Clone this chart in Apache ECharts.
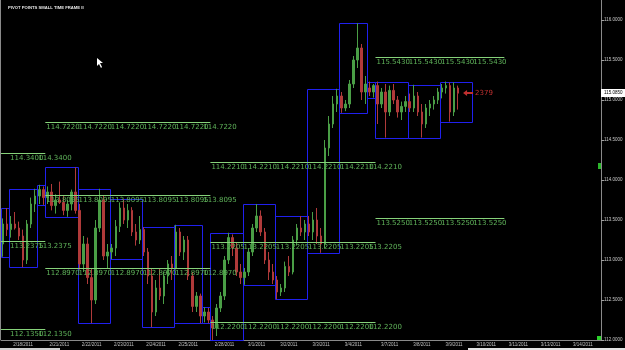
<!DOCTYPE html>
<html>
<head>
<meta charset="utf-8">
<script src="https://cdn.jsdelivr.net/npm/echarts@6/dist/echarts.min.js"></script>
<style>
  html, body { margin: 0; padding: 0; background: #000; }
  #chart { width: 625px; height: 350px; }
</style>
</head>
<body>
<div id="chart"></div>
<script>
// 3-hour candles, each one [open, close, low, high]
const feb17 = [[113.20,113.45,113.04,113.52],[113.45,113.38,113.30,113.65]];
const feb18 = [[113.38,113.45,113.28,113.55],[113.45,113.40,113.38,113.60],[113.40,113.30,113.25,113.48],
  [113.30,113.00,112.91,113.38],[113.00,113.45,112.95,113.50],[113.45,113.70,113.40,113.78],[113.70,113.80,113.60,113.89]];
const feb20 = [[113.80,113.88,113.70,113.94],[113.88,113.78,113.69,113.92]];
const feb21 = [[113.78,113.85,113.70,113.92],[113.85,113.68,113.62,113.95],[113.68,113.75,113.58,113.82],
  [113.75,113.72,113.70,113.98],[113.72,113.62,113.56,113.80],[113.62,113.70,113.54,113.75],
  [113.70,113.85,113.62,113.88],[113.85,113.62,113.58,114.16]];
const feb22 = [[113.62,112.95,112.88,113.70],[112.95,113.20,112.85,113.30],[113.20,112.78,112.70,113.28],
  [112.78,112.50,112.21,112.90],[112.50,113.40,112.45,113.50],[113.40,113.75,113.35,113.89],
  [113.75,113.05,113.00,113.80],[113.05,113.10,112.90,113.20]];
const feb23 = [[113.10,113.15,113.01,113.20],[113.15,113.42,113.05,113.50],[113.42,113.65,113.35,113.72],
  [113.65,113.50,113.45,113.76],[113.50,113.62,113.40,113.70],[113.62,113.35,113.30,113.66],
  [113.35,113.25,113.18,113.45],[113.25,113.38,113.20,113.55]];
const feb24 = [[113.38,113.10,113.05,113.41],[113.10,112.80,112.70,113.15],[112.80,112.35,112.16,112.90],
  [112.35,112.65,112.30,112.75],[112.65,112.55,112.50,112.90],[112.55,112.80,112.45,112.85],
  [112.80,112.95,112.70,113.00],[112.95,112.90,112.75,113.05]];
const feb25 = [[112.90,113.35,112.88,113.44],[113.35,113.10,113.05,113.40],[113.10,113.25,113.00,113.30],
  [113.25,112.80,112.75,113.30],[112.80,112.42,112.35,112.85],[112.42,112.55,112.35,112.60],
  [112.55,112.30,112.21,112.58]];
const feb27 = [[112.30,112.35,112.22,112.41],[112.35,112.25,112.21,112.40]];
const feb28 = [[112.25,112.15,112.00,112.30],[112.15,112.40,112.05,112.45],[112.40,112.55,112.35,112.60],
  [112.55,113.00,112.50,113.05],[113.00,113.28,112.95,113.34],[113.28,113.15,113.05,113.32],
  [113.15,112.85,112.80,113.22],[112.85,112.78,112.70,112.95]];
const mar1 = [[112.78,112.85,112.69,112.90],[112.85,113.10,112.80,113.15],[113.10,113.40,113.05,113.45],
  [113.40,113.55,113.35,113.70],[113.55,113.35,113.30,113.62],[113.35,113.00,112.95,113.40],
  [113.00,112.85,112.75,113.10],[112.85,112.75,112.70,112.95]];
const mar2 = [[112.75,112.60,112.51,112.80],[112.60,112.65,112.55,112.70],[112.65,112.92,112.60,112.98],
  [112.92,112.85,112.80,113.05],[112.85,113.25,112.82,113.30],[113.25,113.40,113.18,113.45],
  [113.40,113.35,113.30,113.55],[113.35,113.45,113.25,113.50]];
const mar3 = [[113.45,113.35,113.30,113.55],[113.35,113.50,113.25,113.60],[113.50,113.30,113.20,113.65],
  [113.30,113.20,113.09,113.40],[113.20,114.40,113.15,114.50],[114.40,114.70,114.30,114.80],
  [114.70,114.95,114.65,115.05],[114.95,115.05,114.85,115.14]];
const mar4 = [[115.05,114.90,114.84,115.10],[114.90,114.95,114.86,115.00],[114.95,115.20,114.90,115.25],
  [115.20,115.50,115.15,115.55],[115.50,115.65,115.40,115.96],[115.65,115.10,115.00,115.70],
  [115.10,115.20,114.95,115.30]];
const mar6 = [[115.15,115.10,115.05,115.23],[115.10,115.18,115.03,115.20]];
const mar7 = [[115.18,114.95,114.70,115.23],[114.95,115.10,114.90,115.15],[115.10,114.85,114.53,115.20],
  [114.85,115.12,114.80,115.18],[115.12,115.00,114.95,115.20],[115.00,114.85,114.78,115.05],
  [114.85,114.92,114.75,114.98],[114.92,114.98,114.85,115.05]];
const mar8 = [[114.98,114.90,114.85,115.08],[114.90,115.05,114.85,115.19],[115.05,114.85,114.80,115.10],
  [114.85,114.70,114.53,114.95],[114.70,114.90,114.65,114.95],[114.90,114.95,114.80,115.00],
  [114.95,115.00,114.88,115.05],[115.00,115.10,114.95,115.15]];
const mar9 = [[115.10,115.15,115.02,115.20],[115.15,115.18,115.08,115.23],[115.18,114.85,114.73,115.22],
  [114.85,115.15,114.80,115.22],[115.15,115.085,114.88,115.18]];

const dayNames = ['2/17/2011','2/18/2011','2/20/2011','2/21/2011','2/22/2011','2/23/2011','2/24/2011',
  '2/25/2011','2/27/2011','2/28/2011','3/1/2011','3/2/2011','3/3/2011','3/4/2011','3/6/2011',
  '3/7/2011','3/8/2011','3/9/2011','3/10/2011','3/11/2011','3/13/2011','3/14/2011'];
const daySlots = [2,7,2,8,8,8,8,7,2,8,8,8,8,7,2,8,8,8,8,8,8,8];
const dayCandles = [feb17,feb18,feb20,feb21,feb22,feb23,feb24,feb25,feb27,feb28,mar1,mar2,mar3,mar4,mar6,
  mar7,mar8,mar9,[],[],[],[]];
const axisDays = ['2/18/2011','2/21/2011','2/22/2011','2/23/2011','2/24/2011','2/25/2011','2/28/2011',
  '3/1/2011','3/2/2011','3/3/2011','3/4/2011','3/7/2011','3/8/2011','3/9/2011','3/10/2011','3/11/2011',
  '3/13/2011','3/14/2011'];

// weekly pivot levels
const pivotFrom = ['2/17/2011','2/21/2011','2/28/2011','3/7/2011'];
const pivotTo = ['2/20/2011','2/27/2011','3/6/2011','3/10/2011'];
const pivotLevels = [
  [114.3400, 113.2375, 112.1350],
  [114.7220, 113.8095, 112.8970],
  [114.2210, 113.2205, 112.2200],
  [115.5430, 113.5250]
];
const timerText = '2379';

const categories = [], candleData = [], boxData = [], labelIdx = new Set();
const dayStart = {}, dayEnd = {};
let idx = 0;
dayNames.forEach((d, i) => {
  dayStart[d] = idx;
  dayEnd[d] = idx + daySlots[i] - 1;
  const bars = dayCandles[i];
  for (let k = 0; k < daySlots[i]; k++) categories.push(d + '|' + k);
  bars.forEach(b => candleData.push(b));
  if (bars.length) {
    boxData.push([idx, idx + daySlots[i] - 1,
      Math.min(...bars.map(b => b[2])), Math.max(...bars.map(b => b[3]))]);
  }
  if (axisDays.includes(d)) labelIdx.add(idx + Math.floor((daySlots[i] - 1) / 2));
  idx += daySlots[i];
});

const pivotData = [], pivotLabelStarts = [];
pivotFrom.forEach((from, w) => {
  const s = dayStart[from], e = dayEnd[pivotTo[w]];
  const starts = dayNames.map(d => dayStart[d]).filter(v => v > 0 && v >= s && v <= e);
  pivotLevels[w].forEach(lv => {
    pivotData.push([s, e, lv]);
    pivotLabelStarts.push(starts);
  });
});

const lastBar = mar9[mar9.length - 1];
const priceData = [[candleData.length - 1, lastBar[1]]];

const smallFont = 'Liberation Sans';
const chart = echarts.init(document.getElementById('chart'));
chart.setOption({
  backgroundColor: '#000',
  animation: false,
  title: {
    text: 'PIVOT POINTS SMALL TIME FRAME II',
    left: 3, top: 1,
    textStyle: { color: '#e6e6e6', fontSize: 4.2, fontWeight: 'bold', fontFamily: smallFont }
  },
  grid: { left: 1, right: 24, top: 0, bottom: 10, outerBoundsMode: 'none' },
  xAxis: {
    type: 'category',
    data: categories,
    boundaryGap: true,
    axisLine: { lineStyle: { color: '#8a8a8a', width: 1 } },
    axisTick: { show: false },
    splitLine: { show: false },
    axisLabel: {
      interval: (i) => labelIdx.has(i),
      formatter: (v) => v.split('|')[0],
      color: '#c0c0c0', fontSize: 4.5, margin: 2, fontFamily: smallFont
    }
  },
  yAxis: {
    type: 'value',
    position: 'right',
    min: 112, max: 116.25, interval: 0.5,
    axisLine: { show: true, lineStyle: { color: '#8a8a8a' } },
    axisTick: { show: true, length: 3, lineStyle: { color: '#a0a0a0' } },
    splitLine: { show: false },
    axisLabel: {
      formatter: (v) => v.toFixed(4), showMaxLabel: false,
      color: '#c8c8c8', fontSize: 4.5, margin: 3, fontFamily: smallFont
    }
  },
  series: [
    {
      type: 'custom',
      name: 'dayBoxes',
      data: boxData,
      encode: { x: [0, 1], y: [2, 3] },
      z: 1,
      renderItem: (params, api) => {
        const w = api.size([1, 0])[0];
        const a = api.coord([api.value(0), api.value(3)]);
        const b = api.coord([api.value(1), api.value(2)]);
        const x1 = Math.round(a[0] - w / 2) + 0.5, x2 = Math.round(b[0] + w / 2) + 0.5;
        const y1 = Math.round(a[1]) + 0.5, y2 = Math.round(b[1]) + 0.5;
        return {
          type: 'polyline',
          shape: { points: [[x1, y1], [x2, y1], [x2, y2], [x1, y2], [x1, y1]] },
          style: { fill: 'none', stroke: '#2020ee', lineWidth: 1 }
        };
      }
    },
    {
      type: 'candlestick',
      data: candleData,
      barWidth: 2,
      z: 2,
      itemStyle: {
        color: '#4a9e46', color0: '#b03a3a',
        borderColor: '#4a9e46', borderColor0: '#b03a3a', borderWidth: 1
      }
    },
    {
      type: 'custom',
      name: 'pivots',
      data: pivotData,
      encode: { x: [0, 1], y: 2 },
      z: 3,
      renderItem: (params, api) => {
        const w = api.size([1, 0])[0];
        const a = api.coord([api.value(0), api.value(2)]);
        const b = api.coord([api.value(1), api.value(2)]);
        const y = Math.round(a[1]) + 0.5;
        const children = [{
          type: 'line',
          shape: { x1: a[0] - w / 2, y1: y, x2: b[0] + w / 2, y2: y },
          style: { stroke: '#86d27a', lineWidth: 1 }
        }];
        pivotLabelStarts[params.dataIndex].forEach(s => {
          const p = api.coord([s, api.value(2)]);
          children.push({
            type: 'text',
            x: p[0] - w / 2 + 1, y: y + 1,
            style: {
              text: api.value(2).toFixed(4), fill: '#5fb35a',
              fontSize: 7, fontFamily: 'DejaVu Sans', verticalAlign: 'top', align: 'left'
            }
          });
        });
        return { type: 'group', children: children };
      }
    },
    {
      type: 'custom',
      name: 'price',
      data: priceData,
      encode: { x: 0, y: 1 },
      z: 4,
      renderItem: (params, api) => {
        const cs = params.coordSys;
        const w = api.size([1, 0])[0];
        const p = api.coord([api.value(0), api.value(1)]);
        const y = Math.round(p[1]);
        const right = cs.x + cs.width;
        const ax = p[0] + w / 2 + 3;
        return {
          type: 'group',
          children: [
            { type: 'rect', shape: { x: right, y: y - 4, width: 24, height: 8 }, style: { fill: '#ffffff' } },
            { type: 'text', x: right + 3, y: y, style: {
                text: api.value(1).toFixed(4), fill: '#000', fontSize: 4.5,
                fontFamily: smallFont, verticalAlign: 'middle' } },
            { type: 'polygon', shape: { points: [[ax, y], [ax + 4, y - 3], [ax + 4, y - 1], [ax + 10, y - 1],
                [ax + 10, y + 1], [ax + 4, y + 1], [ax + 4, y + 3]] }, style: { fill: '#c03030' } },
            { type: 'text', x: ax + 12, y: y, style: {
                text: timerText, fill: '#c03030', fontSize: 7,
                fontFamily: 'DejaVu Sans', verticalAlign: 'middle' } }
          ]
        };
      }
    }
  ],
  graphic: [
    { type: 'line', shape: { x1: 0.5, y1: 0, x2: 0.5, y2: 340 }, style: { stroke: '#8a8a8a' } },
    { type: 'rect', shape: { x: 597, y: 336, width: 4, height: 4 }, style: { fill: '#2bd12b' } },
    { type: 'rect', shape: { x: 598, y: 163, width: 3, height: 6 }, style: { fill: '#2bb52b' } },
    { type: 'rect', shape: { x: 0, y: 348, width: 60, height: 2 }, style: { fill: '#cfcfcf' } },
    { type: 'rect', shape: { x: 468, y: 348, width: 157, height: 2 }, style: { fill: '#e2e2e2' } },
    { type: 'polygon', shape: { points: [[97, 58], [97, 66], [99, 64], [101, 68], [102, 67], [100, 63], [103, 63]] },
      style: { fill: '#ffffff' } }
  ]
});
</script>
</body>
</html>
